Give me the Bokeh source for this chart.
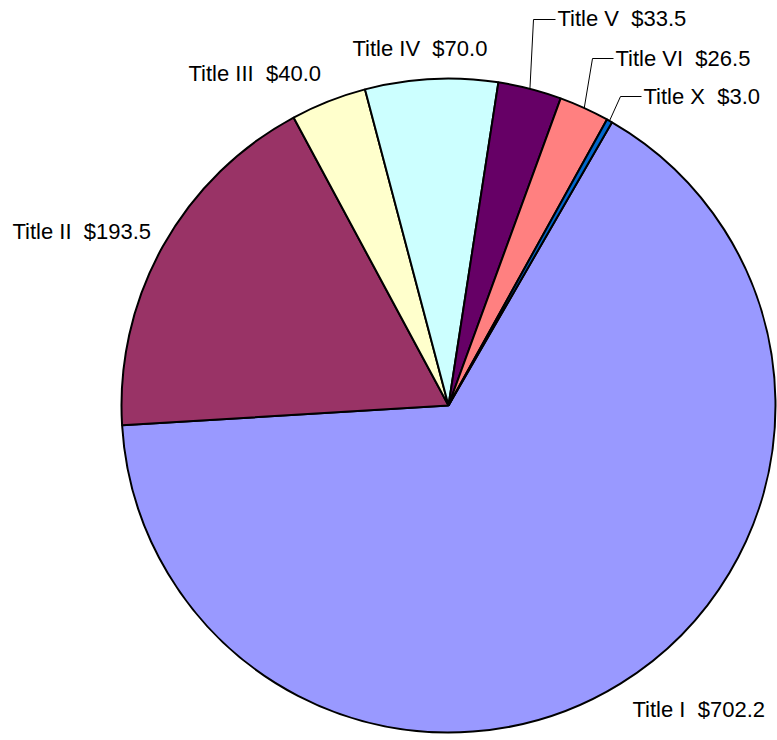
import math
from bokeh.plotting import figure
from bokeh.models import Range1d, ColumnDataSource
from bokeh.core.properties import value
from bokeh.embed import file_html
from bokeh.resources import INLINE

# ---- data ----
categories = ["Title I", "Title II", "Title III", "Title IV", "Title V", "Title VI", "Title X"]
amounts = [702.2, 193.5, 40.0, 70.0, 33.5, 26.5, 3.0]
colors = ["#9999FF", "#993366", "#FFFFCC", "#CCFFFF", "#660066", "#FF8080", "#0066CC"]

# ---- layout (image pixel coords: x right, y down) ----
W, H = 777, 740
CX, CY, R = 448, 405, 327
FIRST_ANGLE_DEG = 60.0           # start of first slice, going clockwise
label_left = [632, 12, 188, 352, 557, 615, 643]
label_mid = [709, 231, 73, 48, 18, 58, 96]
leader_bend = {4: (533, 19), 5: (592, 58), 6: (620, 96)}

def ty(y):
    return H - y

total = sum(amounts)
starts, ends, mids = [], [], []
a = math.radians(FIRST_ANGLE_DEG)
for v in amounts:
    span = v / total * 2 * math.pi
    starts.append(a)
    ends.append(a - span)
    mids.append(a - span / 2)
    a -= span

p = figure(width=W, height=H, output_backend="svg", toolbar_location=None,
           x_range=Range1d(0, W), y_range=Range1d(0, H), min_border=0)
p.axis.visible = False
p.grid.visible = False
p.outline_line_color = None
p.background_fill_color = "white"

src = ColumnDataSource(dict(start=starts, end=ends, color=colors))
p.wedge(x=CX, y=ty(CY), radius=R, start_angle="start", end_angle="end",
        direction="clock", fill_color="color", line_color="black", line_width=2,
        source=src)

# leader lines
xs, ys = [], []
for i, (bx, by) in leader_bend.items():
    ex = CX + R * math.cos(mids[i])
    ey = ty(CY) + R * math.sin(mids[i])
    xs.append([ex, bx, label_left[i] - 2])
    ys.append([ey, ty(by), ty(by)])
p.multi_line(xs=xs, ys=ys, line_color="black", line_width=1)

texts = [f"{c}\u00a0\u00a0${v:.1f}" for c, v in zip(categories, amounts)]
p.text(x=label_left, y=[ty(y) for y in label_mid], text=texts,
       text_font=value("Liberation Sans"), text_font_size="22px",
       text_color="black", text_align="left", text_baseline="middle")

open("out.html", "w").write(file_html(p, INLINE))
